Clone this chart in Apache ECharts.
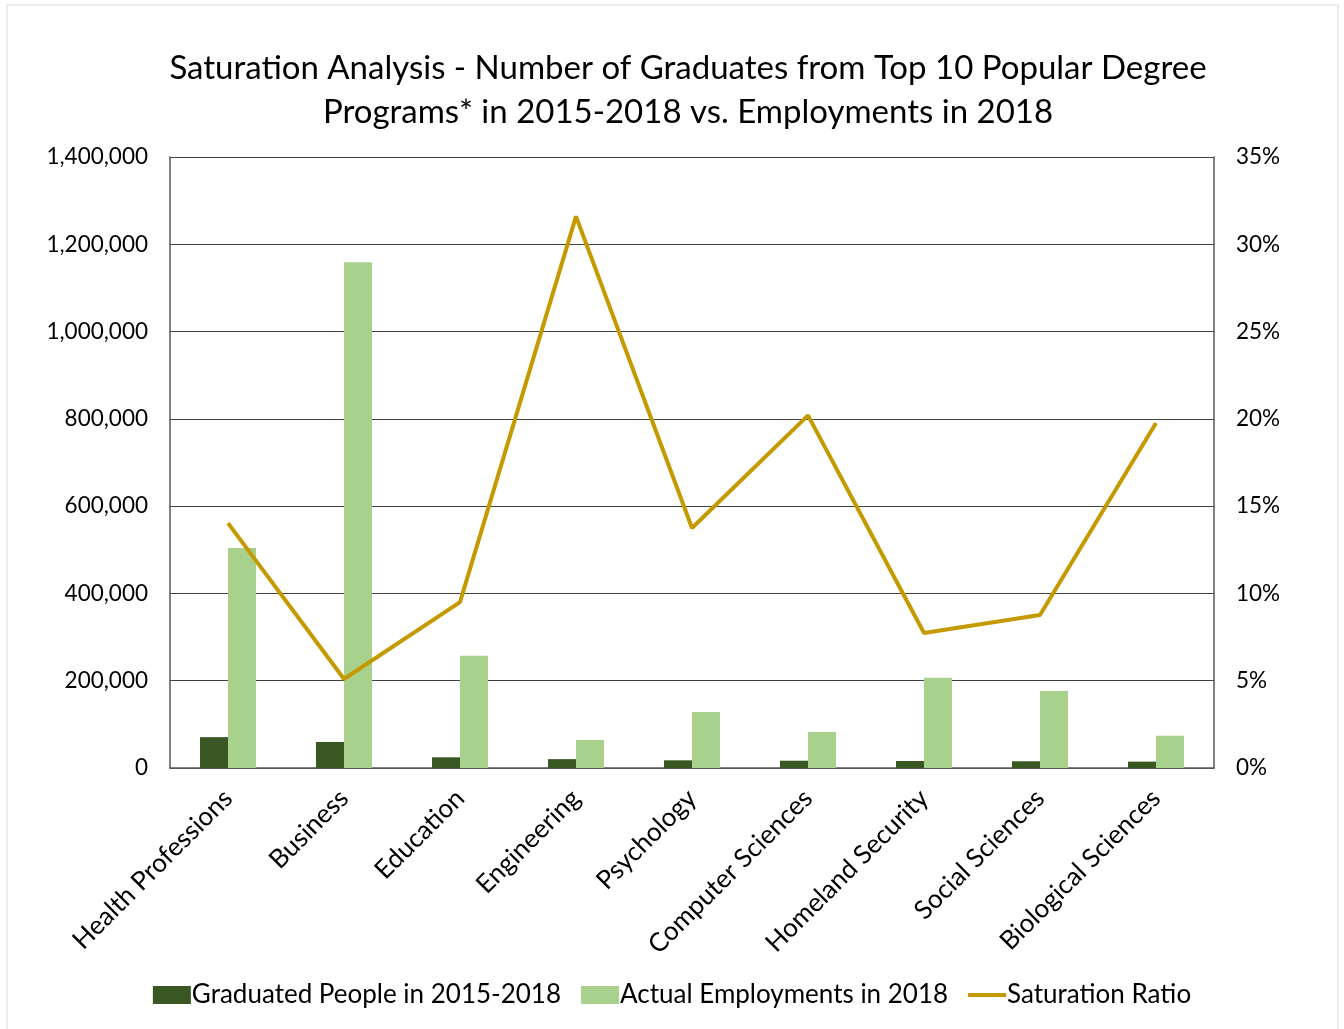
<!DOCTYPE html>
<html>
<head>
<meta charset="utf-8">
<script src="https://cdn.jsdelivr.net/npm/echarts@6/dist/echarts.min.js"></script>
<style>
  html, body { margin: 0; padding: 0; background: #ffffff; }
  #chart { width: 1344px; height: 1029px; }
</style>
</head>
<body>
<div id="chart"></div>
<script>
// Top 10 popular degree programs (nine shown)
const categories = [
  'Health Professions', 'Business', 'Education', 'Engineering', 'Psychology',
  'Computer Sciences', 'Homeland Security', 'Social Sciences', 'Biological Sciences'
];
// Graduates over 2015-2018
const graduated = [70700, 59600, 24500, 20300, 17600, 16700, 16000, 15400, 14600];
// Employment counts for 2018
const employments = [504000, 1159000, 257000, 64200, 128300, 82500, 207000, 176400, 74000];
// Saturation ratio, percent
const saturation = [14.03, 5.1, 9.5, 31.6, 13.75, 20.2, 7.73, 8.76, 19.76];

const leftTicks = { min: 0, max: 1400000, interval: 200000 };
const rightTicks = { min: 0, max: 35, interval: 5 };

const FONT = 'Lato';
const LINE_COLOR = '#c49a00';
const TITLE = 'Saturation Analysis - Number of Graduates from Top 10 Popular Degree\nPrograms* in 2015-2018 vs. Employments in 2018';
const chart = echarts.init(document.getElementById('chart'), null, { renderer: 'canvas' });

chart.setOption({
  backgroundColor: '#ffffff',
  animation: false,
  graphic: [
    {
      type: 'rect',
      shape: { x: 7, y: 5, width: 1331, height: 1030 },
      style: { fill: 'none', stroke: '#d9d9d9', lineWidth: 1 },
      silent: true
    },
    {
      // chart title, centred over the plot and frame
      type: 'text',
      x: 688,
      y: 46,
      style: {
        text: TITLE,
        fontFamily: FONT,
        fontSize: 33,
        lineHeight: 44,
        fill: '#000000',
        align: 'center',
        verticalAlign: 'top'
      },
      silent: true
    }
  ],
  legend: {
    bottom: 16,
    left: 'center',
    itemGap: 20,
    itemWidth: 38,
    itemHeight: 18,
    textStyle: { fontFamily: FONT, fontSize: 26, color: '#000000', padding: [0, 0, 0, -4] },
    data: [
      { name: 'Graduated People in 2015-2018', icon: 'rect' },
      { name: 'Actual Employments in 2018', icon: 'rect' },
      { name: 'Saturation Ratio', icon: 'path://M0,0 L38,0 L38,4 L0,4 Z' }
    ]
  },
  grid: { left: 170, right: 130, top: 157, bottom: 261, containLabel: false },
  xAxis: {
    type: 'category',
    data: categories,
    axisLine: { lineStyle: { color: '#595959', width: 1.5 } },
    axisTick: { show: false },
    axisLabel: { rotate: 45, interval: 0, margin: 26, fontFamily: FONT, fontSize: 26, color: '#000000' }
  },
  yAxis: [
    {
      type: 'value',
      min: leftTicks.min, max: leftTicks.max, interval: leftTicks.interval,
      axisLine: { show: true, lineStyle: { color: '#595959', width: 1.5 } },
      axisTick: { show: false },
      splitLine: { lineStyle: { color: '#404040', width: 1.2 } },
      axisLabel: {
        margin: 22, fontFamily: FONT, fontSize: 22.5, color: '#000000',
        formatter: v => v.toLocaleString('en-US')
      }
    },
    {
      type: 'value',
      min: rightTicks.min, max: rightTicks.max, interval: rightTicks.interval,
      axisLine: { show: true, lineStyle: { color: '#595959', width: 1.5 } },
      axisTick: { show: false },
      splitLine: { show: false },
      axisLabel: {
        margin: 22, fontFamily: FONT, fontSize: 22.5, color: '#000000',
        formatter: v => v + '%'
      }
    }
  ],
  series: [
    {
      name: 'Graduated People in 2015-2018',
      type: 'bar',
      data: graduated,
      barWidth: 28,
      barGap: '0%',
      itemStyle: { color: '#385723' }
    },
    {
      name: 'Actual Employments in 2018',
      type: 'bar',
      data: employments,
      barWidth: 28,
      barGap: '0%',
      itemStyle: { color: '#a9d18e' }
    },
    {
      name: 'Saturation Ratio',
      type: 'line',
      yAxisIndex: 1,
      data: saturation,
      symbol: 'none',
      lineStyle: { color: LINE_COLOR, width: 4 },
      itemStyle: { color: LINE_COLOR }
    }
  ]
});
</script>
</body>
</html>
